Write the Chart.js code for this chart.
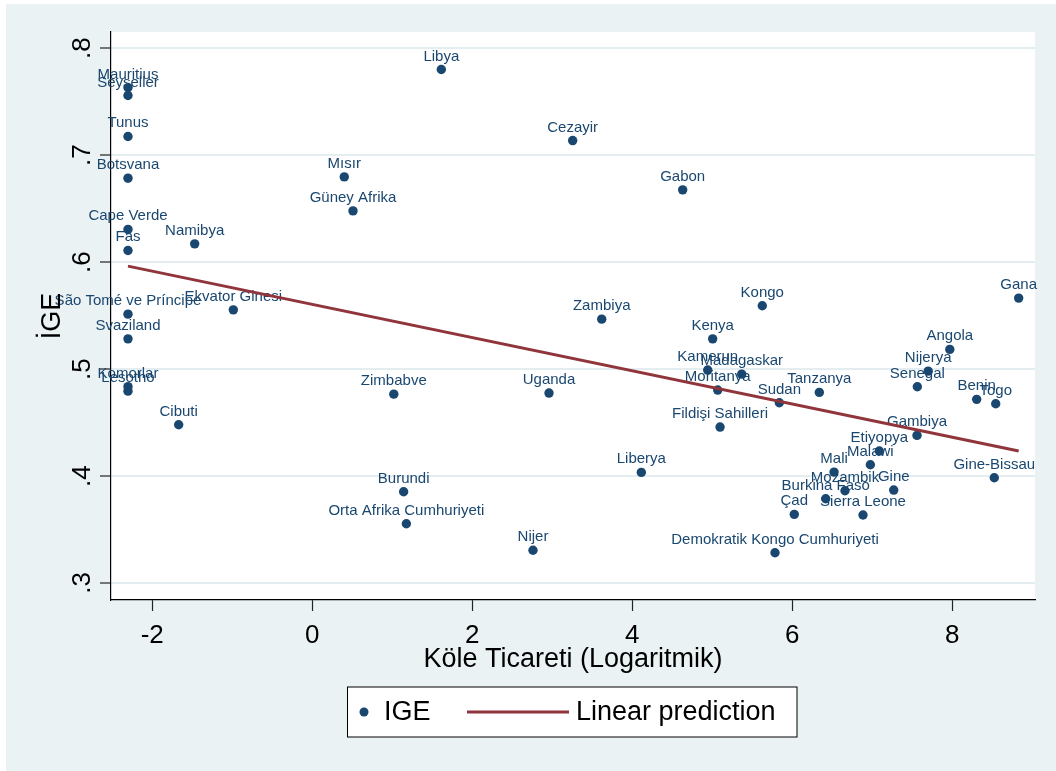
<!DOCTYPE html>
<html><head><meta charset="utf-8">
<script src="https://cdn.jsdelivr.net/npm/chart.js@4/dist/chart.umd.min.js"></script>
<style>html,body{margin:0;padding:0;background:#fff;}#wrap{width:1056px;height:771px;}</style>
</head><body><div id="wrap"><canvas id="c" width="1056" height="771"></canvas></div>
<script>
const countries = ['Mauritius','Seyseller','Tunus','Botsvana','Cape Verde','Fas','São Tomé ve Príncipe','Svaziland','Komorlar','Lesotho',
  'Namibya','Ekvator Ginesi','Cibuti','Mısır','Güney Afrika','Libya','Cezayir','Gabon','Zimbabve','Uganda','Zambiya',
  'Burundi','Orta Afrika Cumhuriyeti','Nijer','Liberya','Kongo','Kenya','Kamerun','Madagaskar','Moritanya','Sudan','Tanzanya',
  'Fildişi Sahilleri','Angola','Nijerya','Senegal','Benin','Togo','Gana','Gambiya','Etiyopya','Malawi','Mali','Mozambik',
  'Burkina Faso','Gine','Çad','Sierra Leone','Gine-Bissau','Demokratik Kongo Cumhuriyeti'];
const slaveTrade = [-2.3026,-2.3026,-2.3026,-2.3026,-2.3026,-2.3026,-2.3026,-2.3026,-2.3026,-2.3026,
  -1.469,-0.986,-1.669,0.401,0.510,1.614,3.256,4.631,1.02,2.96,3.619,
  1.143,1.177,2.76,4.114,5.626,5.006,4.944,5.369,5.069,5.839,6.339,
  5.098,7.97,7.70,7.564,8.306,8.544,8.831,7.56,7.089,6.977,6.523,6.66,
  6.419,7.269,6.026,6.885,8.526,5.785];
const ige = [0.7632,0.7558,0.7175,0.6785,0.6306,0.6109,0.5514,0.5283,0.4836,0.4794,
  0.6171,0.5554,0.4480,0.6797,0.6479,0.7801,0.7137,0.6676,0.4766,0.4776,0.5467,
  0.3853,0.3554,0.3306,0.4034,0.5592,0.5283,0.4991,0.4953,0.4804,0.4685,0.4782,
  0.4458,0.5184,0.4981,0.4835,0.4717,0.4676,0.5664,0.4380,0.4234,0.4106,0.4037,0.3863,
  0.3788,0.3869,0.3642,0.3636,0.3984,0.3283];
const fitX = [-2.3026, 8.831];
const fitY = [0.5963, 0.4234];
const xTicks = [-2,0,2,4,6,8];
const xTickLabels = ['-2','0','2','4','6','8'];
const yTicks = [0.3,0.4,0.5,0.6,0.7,0.8];
const yTickLabels = ['.3','.4','.5','.6','.7','.8'];
const xTitle = 'Köle Ticareti (Logaritmik)';
const yTitle = 'İGE';
const legendLabels = ['IGE','Linear prediction'];

const NAVY = '#1A476F', MAROON = '#90353B', BG = '#EAF2F3';
const FONT = '"Liberation Sans", Arial, sans-serif';

const bgPlugin = {
  id: 'bg',
  beforeDraw(chart) {
    const ctx = chart.ctx, a = chart.chartArea;
    ctx.save();
    ctx.fillStyle = '#fff'; ctx.fillRect(0,0,chart.width,chart.height);
    ctx.fillStyle = BG; ctx.fillRect(6,4,chart.width-6,chart.height-4);
    ctx.fillStyle = '#fff'; ctx.fillRect(a.left,a.top,a.right-a.left,a.bottom-a.top);
    ctx.restore();
  }
};
const labelPlugin = {
  id: 'mlabels',
  afterDatasetDraw(chart, args) {
    if (args.index !== 1) return;
    const ctx = chart.ctx, meta = chart.getDatasetMeta(1);
    ctx.save();
    ctx.font = '15px ' + FONT; ctx.fillStyle = NAVY;
    ctx.textAlign = 'center'; ctx.textBaseline = 'alphabetic';
    meta.data.forEach((pt, i) => ctx.fillText(countries[i], pt.x, pt.y - 9));
    ctx.restore();
  }
};
const textPlugin = {
  id: 'texts',
  afterDraw(chart) {
    const ctx = chart.ctx, xs = chart.scales.x, ys = chart.scales.y, a = chart.chartArea;
    ctx.save();
    ctx.fillStyle = '#000';
    ctx.font = '26px ' + FONT;
    ctx.textAlign = 'center'; ctx.textBaseline = 'middle';
    xTicks.forEach((v,i) => ctx.fillText(xTickLabels[i], xs.getPixelForValue(v), 636));
    yTicks.forEach((v,i) => {
      ctx.save(); ctx.translate(90, ys.getPixelForValue(v)); ctx.rotate(-Math.PI/2);
      ctx.textBaseline = 'alphabetic'; ctx.fillText(yTickLabels[i], 0, 0); ctx.restore();
    });
    ctx.font = '27px ' + FONT;
    ctx.fillText(xTitle, (a.left+a.right)/2, 660);
    ctx.save(); ctx.translate(60, (a.top+a.bottom)/2); ctx.rotate(-Math.PI/2);
    ctx.textBaseline = 'alphabetic'; ctx.fillText(yTitle, 0, 0); ctx.restore();
    // legend
    const lx = 347.5, ly = 687, lw = 449.5, lh = 50, cy = ly + lh/2;
    ctx.fillStyle = '#fff'; ctx.fillRect(lx, ly, lw, lh);
    ctx.strokeStyle = '#000'; ctx.lineWidth = 1; ctx.strokeRect(lx, ly, lw, lh);
    ctx.fillStyle = NAVY; ctx.beginPath(); ctx.arc(364, cy, 4.5, 0, Math.PI*2); ctx.fill();
    ctx.fillStyle = '#000'; ctx.textAlign = 'left'; ctx.font = '27px ' + FONT;
    ctx.fillText(legendLabels[0], 384, cy + 1);
    ctx.strokeStyle = MAROON; ctx.lineWidth = 3;
    ctx.beginPath(); ctx.moveTo(467, cy); ctx.lineTo(569, cy); ctx.stroke();
    ctx.fillText(legendLabels[1], 576, cy + 1);
    ctx.restore();
  }
};

new Chart(document.getElementById('c'), {
  type: 'scatter',
  data: {
    datasets: [
      { label: legendLabels[1], type: 'line', data: fitX.map((x,i)=>({x, y: fitY[i]})),
        borderColor: MAROON, borderWidth: 3, pointRadius: 0, fill: false, tension: 0 },
      { label: legendLabels[0], data: slaveTrade.map((x,i)=>({x, y: ige[i]})),
        backgroundColor: NAVY, borderWidth: 0, pointRadius: 4.7, clip: false }
    ]
  },
  options: {
    responsive: false, animation: false, devicePixelRatio: 1,
    layout: { padding: { top: 32, right: 21, left: 0, bottom: 0 } },
    plugins: { legend: { display: false }, tooltip: { enabled: false } },
    scales: {
      x: {
        type: 'linear', min: -2.515, max: 9.035,
        afterBuildTicks: s => { s.ticks = xTicks.map(v => ({ value: v })); },
        afterFit: s => { s.height = 171; },
        ticks: { display: false },
        grid: { drawOnChartArea: false, tickLength: 11, tickColor: '#222', tickWidth: 1.2 },
        border: { color: '#000', width: 1.2 }
      },
      y: {
        type: 'linear', min: 0.2841, max: 0.8152,
        afterBuildTicks: s => { s.ticks = yTicks.map(v => ({ value: v })); },
        afterFit: s => { s.width = 111; },
        ticks: { display: false },
        grid: { color: '#E4EDF0', lineWidth: 2, tickLength: 11, tickColor: '#222', tickWidth: 1.2 },
        border: { color: '#000', width: 1.2 }
      }
    }
  },
  plugins: [bgPlugin, labelPlugin, textPlugin]
});
</script></body></html>
